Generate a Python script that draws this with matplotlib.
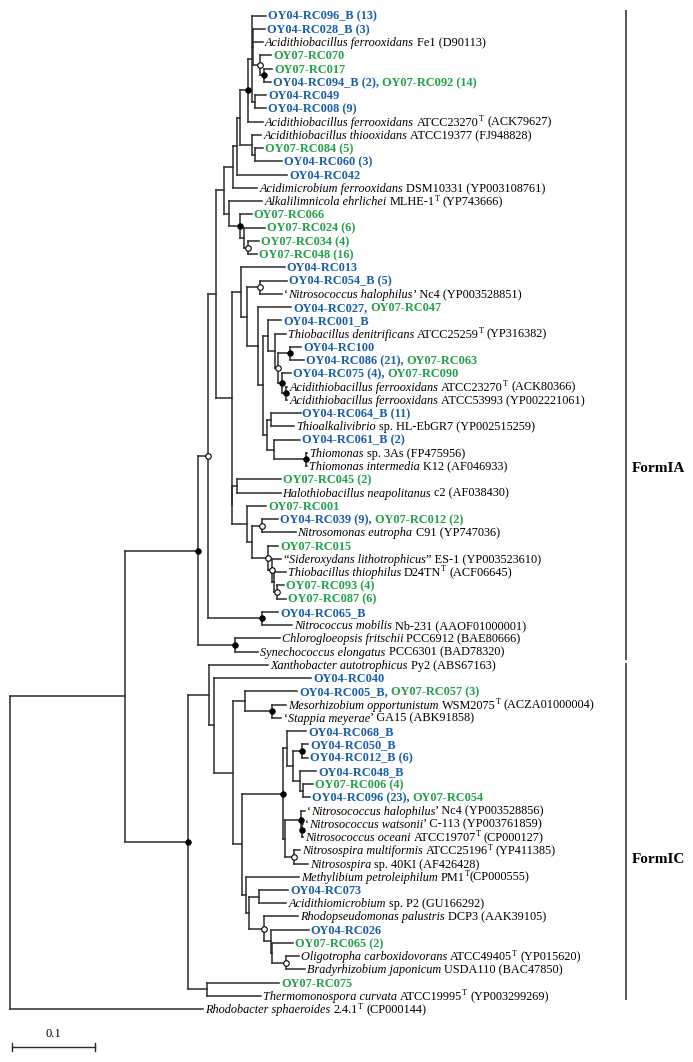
import re
import matplotlib
matplotlib.use("Agg")
import matplotlib.pyplot as plt
from matplotlib.collections import LineCollection
from matplotlib.transforms import ScaledTranslation

# ---------------- data ----------------
LEAF_LABELS = [
    "{b}OY04-RC096_B (13)",
    "{b}OY04-RC028_B (3)",
    "{i}Acidithiobacillus ferrooxidans{n} Fe1 (D90113)",
    "{g}OY07-RC070",
    "{g}OY07-RC017",
    "{b}OY04-RC094_B (2), {g}OY07-RC092 (14)",
    "{b}OY04-RC049",
    "{b}OY04-RC008 (9)",
    "{i}Acidithiobacillus ferrooxidans{n} ATCC23270{s}T{n} (ACK79627)",
    "{i}Acidithiobacillus thiooxidans{n} ATCC19377 (FJ948828)",
    "{g}OY07-RC084 (5)",
    "{b}OY04-RC060 (3)",
    "{b}OY04-RC042",
    "{i}Acidimicrobium ferrooxidans{n} DSM10331 (YP003108761)",
    "{i}Alkalilimnicola ehrlichei{n} MLHE-1{s}T{n} (YP743666)",
    "{g}OY07-RC066",
    "{g}OY07-RC024 (6)",
    "{g}OY07-RC034 (4)",
    "{g}OY07-RC048 (16)",
    "{b}OY04-RC013",
    "{b}OY04-RC054_B (5)",
    "{n}\u2018{i}Nitrosococcus halophilus{n}\u2019 Nc4 (YP003528851)",
    "{b}OY04-RC027, {g}OY07-RC047",
    "{b}OY04-RC001_B",
    "{i}Thiobacillus denitrificans{n} ATCC25259{s}T{n} (YP316382)",
    "{b}OY04-RC100",
    "{b}OY04-RC086 (21), {g}OY07-RC063",
    "{b}OY04-RC075 (4), {g}OY07-RC090",
    "{i}Acidithiobacillus ferrooxidans{n} ATCC23270{s}T{n} (ACK80366)",
    "{i}Acidithiobacillus ferrooxidans{n} ATCC53993 (YP002221061)",
    "{b}OY04-RC064_B (11)",
    "{i}Thioalkalivibrio{n} sp. HL-EbGR7 (YP002515259)",
    "{b}OY04-RC061_B (2)",
    "{i}Thiomonas{n} sp. 3As (FP475956)",
    "{i}Thiomonas intermedia{n} K12 (AF046933)",
    "{g}OY07-RC045 (2)",
    "{i}Halothiobacillus neapolitanus{n} c2 (AF038430)",
    "{g}OY07-RC001",
    "{b}OY04-RC039 (9), {g}OY07-RC012 (2)",
    "{i}Nitrosomonas eutropha{n} C91 (YP747036)",
    "{g}OY07-RC015",
    "{n}\u201c{i}Sideroxydans lithotrophicus{n}\u201d ES-1 (YP003523610)",
    "{i}Thiobacillus thiophilus{n} D24TN{s}T{n} (ACF06645)",
    "{g}OY07-RC093 (4)",
    "{g}OY07-RC087 (6)",
    "{b}OY04-RC065_B",
    "{i}Nitrococcus mobilis{n} Nb-231 (AAOF01000001)",
    "{i}Chlorogloeopsis fritschii{n} PCC6912 (BAE80666)",
    "{i}Synechococcus elongatus{n} PCC6301 (BAD78320)",
    "{i}Xanthobacter autotrophicus{n} Py2 (ABS67163)",
    "{b}OY04-RC040",
    "{b}OY04-RC005_B, {g}OY07-RC057 (3)",
    "{i}Mesorhizobium opportunistum{n} WSM2075{s}T{n} (ACZA01000004)",
    "{n}\u2018{i}Stappia meyerae{n}\u2019 GA15 (ABK91858)",
    "{b}OY04-RC068_B",
    "{b}OY04-RC050_B",
    "{b}OY04-RC012_B (6)",
    "{b}OY04-RC048_B",
    "{g}OY07-RC006 (4)",
    "{b}OY04-RC096 (23), {g}OY07-RC054",
    "{n}\u2018{i}Nitrosococcus halophilus{n}\u2019 Nc4 (YP003528856)",
    "{n}\u2018{i}Nitrosococcus watsonii{n}\u2019 C-113 (YP003761859)",
    "{i}Nitrosococcus oceani{n} ATCC19707{s}T{n} (CP000127)",
    "{i}Nitrosospira multiformis{n} ATCC25196{s}T{n} (YP411385)",
    "{i}Nitrosospira{n} sp. 40KI (AF426428)",
    "{i}Methylibium petroleiphilum{n} PM1{s}T{n}(CP000555)",
    "{b}OY04-RC073",
    "{i}Acidithiomicrobium{n} sp. P2 (GU166292)",
    "{i}Rhodopseudomonas palustris{n} DCP3 (AAK39105)",
    "{b}OY04-RC026",
    "{g}OY07-RC065 (2)",
    "{i}Oligotropha carboxidovorans{n} ATCC49405{s}T{n} (YP015620)",
    "{i}Bradyrhizobium japonicum{n} USDA110 (BAC47850)",
    "{g}OY07-RC075",
    "{i}Thermomonospora curvata{n} ATCC19995{s}T{n} (YP003299269)",
    "{i}Rhodobacter sphaeroides{n} 2.4.1{s}T{n} (CP000144)",
]

# Clades in Newick form; leaf names = row index into LEAF_LABELS,
# branch lengths in substitutions/site, node label f = filled marker, o = open marker
ACIDITHIO = ("((0:0.018,(1:0.014,2:0.012,(3:0.014,(4:0.010,5:0.008)f:0.005)o:0.008):0.002,"
             "(6:0.014,7:0.014):0.004):0.004,8:0.018)f:0.010")
THIOOX = "(9:0.012,(10:0.010,11:0.033):0.004):0.014"
ALKALI = "(14:0.040,(15:0.014,(16:0.025,(17:0.013,18:0.011)o:0.005):0.005)f:0.013):0.006"
DENITR = ("(23:0.016,(24:0.013,((25:0.014,26:0.017)f:0.014,"
          "(27:0.010,(28:0.001,29:0.001)f:0.005)f:0.005)o:0.004):0.008):0.006")
THIOMON = "((30:0.036,31:0.028):0.004,(32:0.031,(33:0.001,34:0.001)f:0.039):0.008):0.005"
NITROSOM = ("((35:0.053,36:0.052):0.006,(37:0.023,((38:0.019,39:0.040)o:0.012,"
            "(40:0.012,(41:0.011,(42:0.014,(43:0.008,44:0.010)o:0.004):0.002)o:0.005)o:0.019)"
            ":0.006):0.018):0.001")
NITROCOC = "(45:0.019,46:0.036)f:0.066"
CYANO = "(47:0.054,48:0.028)f:0.045"
MESO = "(51:0.063,(52:0.017,53:0.011)f:0.033):0.014"
RC068 = "(54:0.023,((55:0.007,56:0.007)f:0.011,(57:0.020,(58:0.012,59:0.008):0.004):0.008):0.007):0.005"
NITROSOC = "((60:0.005,(61:0.001,62:0.001)f:0.002)f:0.019,(63:0.007,64:0.017)o:0.011):0.002"
RHODOP = ("(65:0.064,((66:0.035,67:0.033):0.012,(68:0.041,(69:0.046,(70:0.025,"
          "(71:0.016,72:0.023)o:0.016):0.002):0.008)o:0.018):0.004):0.004")
THERMO = "(73:0.087,74:0.065):0.022"
OUTGROUP = "75:0.233"

FORM_IA = (f"((({ACIDITHIO},{THIOOX}):0.004,12:0.061):0.004,13:0.029):0.011,{ALKALI}")
FORM_IA_MID = (f"((19:0.053,((20:0.033,21:0.027)o:0.016,(22:0.040,({DENITR},{THIOMON}):0.006)"
               f":0.014):0.007):0.011,{NITROSOM}):0.019")
FORM_IA_ALL = f"(((({FORM_IA}):0.010,{FORM_IA_MID}):0.010,{NITROCOC})o:0.012,{CYANO})f:0.087"
FORM_IC_ALL = (f"((49:0.071,(50:0.117,({MESO},(({RC068},{NITROSOC})f:0.049,{RHODOP}):0.011)"
               f":0.023):0.006):0.025,{THERMO})f:0.076")
TREE = f"(({FORM_IA_ALL},{FORM_IC_ALL}):0.139,{OUTGROUP});"

GROUP_NAMES = ["FormIA", "FormIC"]
SCALE_BAR = 0.1

# ---------------- style / layout ----------------
W_PX, H_PX, DPI = 693, 1062, 100
FONT = "Liberation Serif"
FS, FS_SUP = 8.8, 6.0
BLUE, GREEN = "#1a5ea8", "#22a04a"
LINE_C = "#2b2b2b"
PX_PER_UNIT = 830.0
ROOT_PX = 10.0
ROW0_PX, ROW_PX = 15.7, 13.247

fig = plt.figure(figsize=(W_PX / DPI, H_PX / DPI), dpi=DPI)
ax = fig.add_axes([0, 0, 1, 1])
ax.set_xlim(-ROOT_PX / PX_PER_UNIT, (W_PX - ROOT_PX) / PX_PER_UNIT)
ax.set_ylim((H_PX - ROW0_PX) / ROW_PX, -ROW0_PX / ROW_PX)
ax.axis("off")


def parse(s):
    pos = 0

    def node():
        nonlocal pos
        n = {"children": [], "label": "", "len": 0.0}
        if s[pos] == "(":
            pos += 1
            n["children"].append(node())
            while s[pos] == ",":
                pos += 1
                n["children"].append(node())
            pos += 1  # ')'
        m = re.match(r"[^:,();]*", s[pos:])
        n["label"] = m.group(0)
        pos += len(m.group(0))
        if pos < len(s) and s[pos] == ":":
            pos += 1
            m = re.match(r"[0-9.eE+-]+", s[pos:])
            n["len"] = float(m.group(0))
            pos += len(m.group(0))
        return n

    return node()


def layout(n, x0=0.0):
    n["x"] = x0 + n["len"]
    if n["children"]:
        for c in n["children"]:
            layout(c, n["x"])
        n["y"] = (n["children"][0]["y"] + n["children"][-1]["y"]) / 2.0
    else:
        n["y"] = float(int(n["label"]))


root = parse(TREE)
layout(root)

segs, filled, opened, leaves = [], [], [], []


def collect(n):
    if n["children"]:
        segs.append([(n["x"], n["children"][0]["y"]), (n["x"], n["children"][-1]["y"])])
        for c in n["children"]:
            segs.append([(n["x"], c["y"]), (c["x"], c["y"])])
            collect(c)
        if n["label"] == "f":
            filled.append((n["x"], n["y"]))
        elif n["label"] == "o":
            opened.append((n["x"], n["y"]))
    else:
        leaves.append((int(n["label"]), n["x"], n["y"]))


collect(root)
ax.add_collection(LineCollection(segs, colors=LINE_C, linewidths=1.1, capstyle="projecting", zorder=2))
if filled:
    ax.plot(*zip(*filled), "o", ms=4.0, mfc="black", mec="black", mew=0.6, zorder=4)
if opened:
    ax.plot(*zip(*opened), "o", ms=4.0, mfc="white", mec="black", mew=0.8, zorder=4)

# ---------------- labels ----------------
STYLES = {
    "b": dict(color=BLUE, weight="bold", size=FS),
    "g": dict(color=GREEN, weight="bold", size=FS),
    "i": dict(color="black", style="italic", size=FS),
    "n": dict(color="black", size=FS),
    "s": dict(color="black", size=FS_SUP),
}
renderer = fig.canvas.get_renderer()


def text_width(s, st):
    t = ax.text(0, 0, s, fontfamily=FONT, **STYLES[st])
    w = t.get_window_extent(renderer).width
    t.remove()
    return w


SPACE = {k: text_width("x x", k) - text_width("xx", k) for k in STYLES}
GAP_PX, BASE_DY, SUP_RISE = 2.0, -4.0, 4.6


def put_label(x, y, label):
    cursor = GAP_PX
    for st, txt in re.findall(r"\{(\w)\}([^{]*)", label):
        core = txt.strip(" ")
        lead = len(txt) - len(txt.lstrip(" "))
        trail = len(txt) - len(txt.rstrip(" "))
        cursor += lead * SPACE[st]
        dy = BASE_DY + (SUP_RISE if st == "s" else 0.0)
        tr = ax.transData + ScaledTranslation(cursor / DPI, dy / DPI, fig.dpi_scale_trans)
        t = ax.text(x, y, core, transform=tr, ha="left", va="baseline", fontfamily=FONT, **STYLES[st])
        cursor += t.get_window_extent(renderer).width + trail * SPACE[st]


for idx, x, y in leaves:
    put_label(x, y, LEAF_LABELS[idx])

# ---------------- group brackets ----------------
BR_X = (626 - ROOT_PX) / PX_PER_UNIT
GROUP_SPANS = [(-0.45, 48.6), (48.85, 74.3)]
GROUP_LABEL_ROWS = [34.1, 63.6]
for name, (y0, y1), yl in zip(GROUP_NAMES, GROUP_SPANS, GROUP_LABEL_ROWS):
    ax.plot([BR_X, BR_X], [y0, y1], color=LINE_C, lw=1.1, solid_capstyle="butt")
    tr = ax.transData + ScaledTranslation(6 / DPI, -5 / DPI, fig.dpi_scale_trans)
    ax.text(BR_X, yl, name, transform=tr, ha="left", va="baseline",
            fontfamily=FONT, weight="bold", size=11)

# ---------------- scale bar ----------------
sb_x0 = (12 - ROOT_PX) / PX_PER_UNIT
sb_y = (1047 - ROW0_PX) / ROW_PX
tick = 0.28
ax.plot([sb_x0, sb_x0 + SCALE_BAR], [sb_y, sb_y], color=LINE_C, lw=1.0)
for xx in (sb_x0, sb_x0 + SCALE_BAR):
    ax.plot([xx, xx], [sb_y - tick, sb_y + tick], color=LINE_C, lw=1.0)
ax.text(sb_x0 + SCALE_BAR / 2, sb_y - 0.55, f"{SCALE_BAR:g}", ha="center", va="bottom",
        fontfamily=FONT, size=9)

fig.savefig("out.png", dpi=DPI)
